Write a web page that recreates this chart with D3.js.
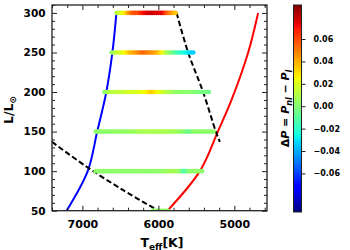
<!DOCTYPE html>
<html>
<head>
<meta charset="utf-8">
<script src="https://cdn.jsdelivr.net/npm/d3@7"></script>
<style>
body { margin: 0; background: #fff; }
text { font-family: "DejaVu Sans", sans-serif; font-weight: bold; fill: #000; }
</style>
</head>
<body>
<script>
var w = 350;
var h = 250;

// tracks in the HR plane (Teff, L)
var blueTeff = [7208, 6930, 6805, 6685, 6605, 6552];
var blueL = [50, 100, 150, 200, 250, 300];
var redTeff = [5880, 5454, 5217, 5037, 4818, 4687];
var redL = [50, 100, 150, 190, 250, 300];
var dashLoTeff = [7400, 6945, 6463, 6000];
var dashLoL = [137, 105.6, 76, 50];
var dashHiTeff = [5760, 5608, 5411, 5243, 5190];
var dashHiL = [300, 250, 200, 150, 137];

// model rows: luminosity, first Teff, Teff step
var rowL = [300, 250, 200, 150, 100, 50];
var rowTeff0 = [6550, 6615, 6710, 6825, 6825, 6075];
var teffStep = 25;

// delta P along each row (hot -> cool)
var dP300 = [0.010, 0.013, 0.018, 0.022, 0.027, 0.030, 0.042, 0.047, 0.055, 0.057, 0.060, 0.058, 0.062, 0.066, 0.070, 0.072,
  0.075, 0.078, 0.076, 0.079, 0.077, 0.074, 0.078, 0.073, 0.075, 0.070, 0.060, 0.055, 0.050, 0.045, 0.040, 0.035];
var dP250 = [0.003, 0.006, 0.012, 0.015, 0.017, 0.019, 0.023, 0.026, 0.028, 0.034, 0.038, 0.040, 0.042, 0.044, 0.047, 0.050,
  0.052, 0.053, 0.051, 0.050, 0.048, 0.046, 0.044, 0.042, 0.040, 0.035, 0.030, 0.024, 0.016, 0.008, 0.004, 0.000,
  -0.004, -0.008, -0.012, -0.016, -0.019, -0.021, -0.023, -0.025, -0.028, -0.030, -0.032, -0.034];
var dP200 = [0.002, 0.004, 0.007, 0.010, 0.012, 0.013, 0.012, 0.014, 0.015, 0.014, 0.013, 0.015, 0.017, 0.018, 0.017, 0.019,
  0.018, 0.020, 0.019, 0.022, 0.024, 0.023, 0.025, 0.029, 0.032, 0.033, 0.031, 0.030, 0.025, 0.023, 0.020, 0.016,
  0.013, 0.011, 0.009, 0.007, 0.005, 0.004, 0.003, 0.002, 0.003, 0.002, 0.001, 0.002, 0.001, 0.000, 0.001, 0.000,
  -0.001, -0.002, -0.003, -0.002, -0.004, -0.003, -0.004, -0.005];
var dP150 = [0.002, 0.003, 0.002, 0.001, 0.002, 0.003, 0.002, 0.002, 0.001, 0.003, 0.002, 0.003, 0.004, 0.003, 0.002, 0.003,
  0.004, 0.003, 0.004, 0.005, 0.004, 0.005, 0.007, 0.008, 0.007, 0.009, 0.008, 0.008, 0.009, 0.007, 0.008, 0.009,
  0.008, 0.007, 0.008, 0.009, 0.008, 0.007, 0.008, 0.007, 0.006, 0.007, 0.006, 0.005, 0.004, 0.003, 0.002, 0.000,
  -0.004, -0.006, -0.004, 0.000, 0.002, 0.003, 0.002, 0.003, 0.002, 0.001, 0.002, 0.003, 0.002, 0.001, 0.002];
var dP100 = [0.002, 0.003, 0.002, 0.003, 0.002, 0.002, 0.003, 0.002, 0.001, 0.002, 0.003, 0.002, 0.002, 0.003, 0.002, 0.001,
  0.002, 0.003, 0.002, 0.002, 0.001, 0.002, 0.003, 0.002, 0.002, 0.003, 0.002, 0.001, 0.002, 0.002, 0.003, 0.002,
  0.003, 0.002, 0.002, 0.003, 0.004, 0.004, 0.005, 0.006, 0.007, 0.006, 0.007, 0.006, 0.004, 0.000, -0.010, -0.012,
  -0.008, 0.000, 0.002, 0.003, 0.002, 0.003, 0.002, 0.003, 0.002];
var dP50 = [0.002, 0.003, 0.002, 0.002, 0.003, 0.002, 0.002, 0.003, 0.002];
var rowDP = [dP300, dP250, dP200, dP150, dP100, dP50];

var xMajor = [7000, 6000, 5000];
var yMajor = [50, 100, 150, 200, 250, 300];
var cbTicks = [-0.06, -0.04, -0.02, 0.00, 0.02, 0.04, 0.06];
var cMin = -0.0945, cMax = 0.0904;

var mL = 52, mR = 267, mT = 5, mB = 210.7;

var x = d3.scaleLinear().domain([7400, 4570]).range([mL, mR]);
var y = d3.scaleLinear().domain([50, 310]).range([mB, mT]);

// jet colormap
var jetR = d3.scaleLinear().domain([0, 0.35, 0.66, 0.89, 1]).range([0, 0, 1, 1, 0.5]).clamp(true);
var jetG = d3.scaleLinear().domain([0, 0.125, 0.375, 0.64, 0.91, 1]).range([0, 0, 1, 1, 0, 0]).clamp(true);
var jetB = d3.scaleLinear().domain([0, 0.11, 0.34, 0.65, 1]).range([0.5, 1, 1, 0, 0]).clamp(true);
function jet(t) {
  return d3.rgb(jetR(t) * 255, jetG(t) * 255, jetB(t) * 255) + "";
}
var cNorm = d3.scaleLinear().domain([cMin, cMax]).range([0, 1]).clamp(true);

var svg = d3.select("body").append("svg")
  .attr("width", w)
  .attr("height", h);

var defs = svg.append("defs");
defs.append("clipPath").attr("id", "plotclip")
  .append("rect")
  .attr("x", mL).attr("y", mT)
  .attr("width", mR - mL).attr("height", mB - mT);

var plot = svg.append("g").attr("clip-path", "url(#plotclip)");

var line = d3.line()
  .x(function(d) { return x(d[0]); })
  .y(function(d) { return y(d[1]); })
  .curve(d3.curveCatmullRom);

function pairs(a, b) {
  return a.map(function(v, i) { return [v, b[i]]; });
}

plot.append("path").attr("d", line(pairs(blueTeff, blueL)))
  .attr("fill", "none").attr("stroke", "#0000ff").attr("stroke-width", 2);
plot.append("path").attr("d", line(pairs(redTeff, redL)))
  .attr("fill", "none").attr("stroke", "#ff0000").attr("stroke-width", 2);
plot.append("path").attr("d", line(pairs(dashLoTeff, dashLoL)))
  .attr("fill", "none").attr("stroke", "#000").attr("stroke-width", 2)
  .attr("stroke-dasharray", "5.5,2.8");
plot.append("path").attr("d", line(pairs(dashHiTeff, dashHiL)))
  .attr("fill", "none").attr("stroke", "#000").attr("stroke-width", 2)
  .attr("stroke-dasharray", "5.5,2.8");

// scatter points
var points = [];
rowL.forEach(function(L, r) {
  rowDP[r].forEach(function(v, i) {
    points.push({ teff: rowTeff0[r] - i * teffStep, L: L, dp: v });
  });
});

plot.selectAll("circle")
  .data(points)
  .enter()
  .append("circle")
  .attr("cx", function(d) { return x(d.teff); })
  .attr("cy", function(d) { return y(d.L); })
  .attr("r", 2.3)
  .attr("fill", function(d) { return jet(cNorm(d.dp)); });

// axes with inward ticks on all sides
var xMinor = d3.range(7400, 4500, -200).filter(function(v) { return xMajor.indexOf(v) < 0; });
var yMinor = d3.range(50, 311, 10).filter(function(v) { return yMajor.indexOf(v) < 0; });

function styleAxis(g) {
  g.select(".domain").remove();
  g.selectAll(".tick line").attr("stroke", "#222").attr("stroke-width", 1);
}

svg.append("g").attr("transform", "translate(0," + mB + ")")
  .call(d3.axisBottom(x).tickValues(xMajor).tickSize(-5).tickPadding(9.5).tickFormat(d3.format("d")))
  .call(styleAxis)
  .selectAll("text").style("font-size", "11px").style("font-family", "DejaVu Sans").style("font-weight", "bold").attr("fill", "#000");
svg.append("g").attr("transform", "translate(0," + mB + ")")
  .call(d3.axisBottom(x).tickValues(xMinor).tickSize(-3).tickFormat(""))
  .call(styleAxis);
svg.append("g").attr("transform", "translate(0," + mT + ")")
  .call(d3.axisTop(x).tickValues(xMajor).tickSize(-5).tickFormat(""))
  .call(styleAxis);
svg.append("g").attr("transform", "translate(0," + mT + ")")
  .call(d3.axisTop(x).tickValues(xMinor).tickSize(-3).tickFormat(""))
  .call(styleAxis);

svg.append("g").attr("transform", "translate(" + mL + ",0)")
  .call(d3.axisLeft(y).tickValues(yMajor).tickSize(-5).tickPadding(6.5))
  .call(styleAxis)
  .selectAll("text").style("font-size", "10.5px").style("font-family", "DejaVu Sans").style("font-weight", "bold").attr("fill", "#000");
svg.append("g").attr("transform", "translate(" + mL + ",0)")
  .call(d3.axisLeft(y).tickValues(yMinor).tickSize(-3).tickFormat(""))
  .call(styleAxis);
svg.append("g").attr("transform", "translate(" + mR + ",0)")
  .call(d3.axisRight(y).tickValues(yMajor).tickSize(-5).tickFormat(""))
  .call(styleAxis);
svg.append("g").attr("transform", "translate(" + mR + ",0)")
  .call(d3.axisRight(y).tickValues(yMinor).tickSize(-3).tickFormat(""))
  .call(styleAxis);

svg.append("rect")
  .attr("x", mL).attr("y", mT)
  .attr("width", mR - mL).attr("height", mB - mT)
  .attr("fill", "none").attr("stroke", "#222").attr("stroke-width", 1.3);

// axis labels
var xl = svg.append("text")
  .attr("x", 162).attr("y", 246.5)
  .attr("text-anchor", "middle")
  .style("font-size", "12.5px");
xl.append("tspan").text("T");
xl.append("tspan").attr("dy", 3).style("font-size", "9px").text("eff");
xl.append("tspan").attr("dy", -3).text("[K]");

var yl = svg.append("text")
  .attr("transform", "translate(13,110) rotate(-90)")
  .attr("text-anchor", "middle")
  .style("font-size", "12.5px");
yl.append("tspan").text("L/L");
yl.append("tspan").attr("dy", 3).style("font-size", "9px").text("⊙");

// colorbar
var cbX = 293.5, cbW = 8, cbTop = 5, cbBottom = 212;
var cScale = d3.scaleLinear().domain([cMin, cMax]).range([cbBottom, cbTop]);

var grad = defs.append("linearGradient").attr("id", "jetgrad")
  .attr("x1", 0).attr("y1", 1).attr("x2", 0).attr("y2", 0);
grad.selectAll("stop")
  .data(d3.range(0, 1.0001, 0.01))
  .enter().append("stop")
  .attr("offset", function(d) { return d; })
  .attr("stop-color", function(d) { return jet(d); });

svg.append("rect")
  .attr("x", cbX).attr("y", cbTop)
  .attr("width", cbW).attr("height", cbBottom - cbTop)
  .attr("fill", "url(#jetgrad)")
  .attr("stroke", "#222").attr("stroke-width", 1);

svg.append("g").attr("transform", "translate(" + (cbX + cbW) + ",0)")
  .call(d3.axisRight(cScale).tickValues(cbTicks).tickSize(4).tickPadding(8).tickFormat(d3.format(".2f")))
  .call(styleAxis)
  .selectAll("text").style("font-size", "8px").style("font-family", "DejaVu Sans").style("font-weight", "bold").attr("fill", "#000");

var cl = svg.append("text")
  .attr("transform", "translate(289,108.5) rotate(-90)")
  .attr("text-anchor", "middle")
  .style("font-size", "11px");
cl.append("tspan").text("Δ");
cl.append("tspan").style("font-style", "italic").text("P");
cl.append("tspan").text(" = ");
cl.append("tspan").style("font-style", "italic").text("P");
cl.append("tspan").attr("dy", 2.5).style("font-size", "8px").style("font-style", "italic").text("nl");
cl.append("tspan").attr("dy", -2.5).text(" − ");
cl.append("tspan").style("font-style", "italic").text("P");
cl.append("tspan").attr("dy", 2.5).style("font-size", "8px").style("font-style", "italic").text("l");
</script>
</body>
</html>
